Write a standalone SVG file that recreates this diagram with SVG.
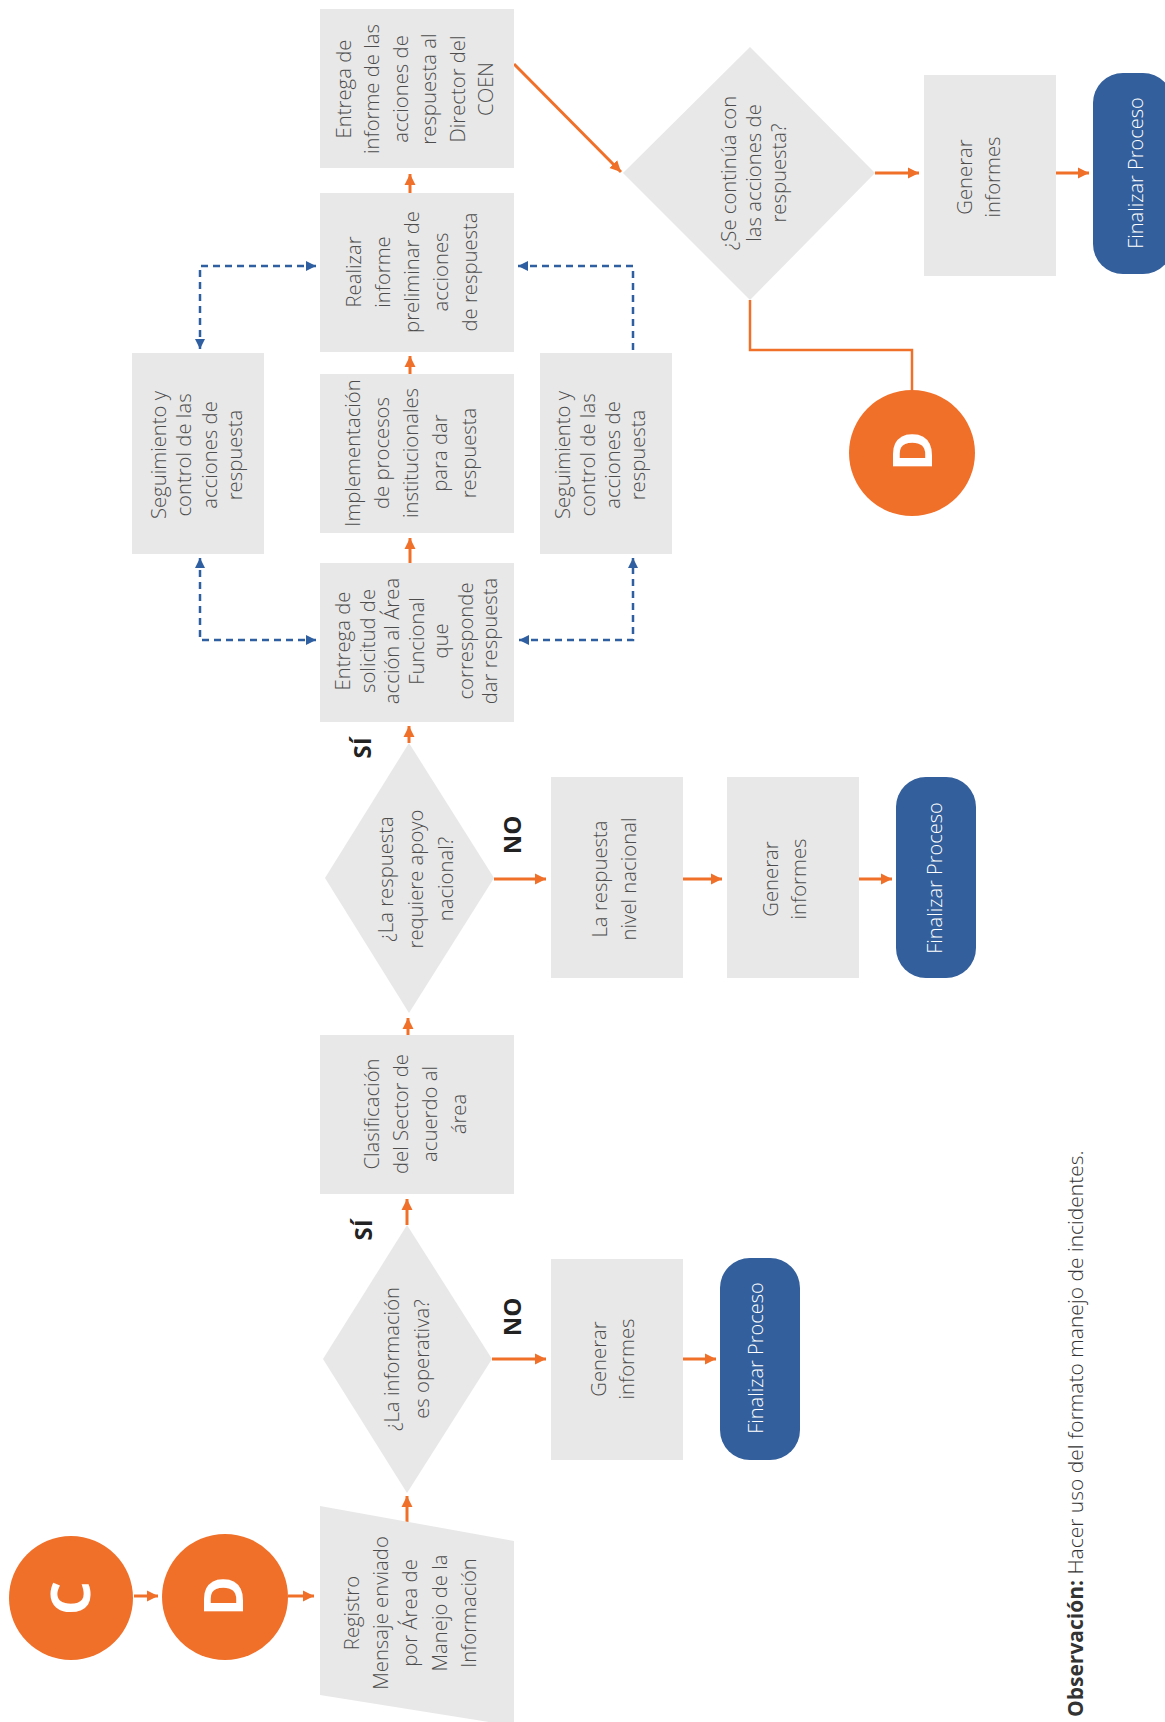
<svg xmlns="http://www.w3.org/2000/svg" width="1165" height="1722" viewBox="0 0 1165 1722">
<style>
.box{fill:#e8e8e8}
.term{fill:#335f9c}
.circ{fill:#f07029}
.t{font-family:"Open Sans","Liberation Sans",sans-serif;font-weight:300;font-size:20.3px;fill:#4d4d4d;text-anchor:middle}
.tw{font-family:"Open Sans","Liberation Sans",sans-serif;font-weight:300;font-size:20px;fill:#ffffff;text-anchor:middle}
.lbl{font-family:"Open Sans","Liberation Sans",sans-serif;font-weight:700;font-size:24px;fill:#222222;text-anchor:middle}
.big{font-family:"Open Sans","Liberation Sans",sans-serif;font-weight:700;font-size:54px;fill:#ffffff;text-anchor:middle}
.o{fill:none;stroke:#f07029;stroke-width:3}
.ol{fill:none;stroke:#f07029;stroke-width:2.5}
.b{fill:none;stroke:#2f5fa0;stroke-width:2.5;stroke-dasharray:7 5}
</style>
<defs>
<marker id="ao" viewBox="0 0 10 10" refX="10" refY="5" markerWidth="11" markerHeight="12" markerUnits="userSpaceOnUse" orient="auto-start-reverse"><path d="M0,0 L10,5 L0,10 z" fill="#f07029"/></marker>
<marker id="ab" viewBox="0 0 10 10" refX="10" refY="5" markerWidth="10" markerHeight="11" markerUnits="userSpaceOnUse" orient="auto-start-reverse"><path d="M0,0 L10,5 L0,10 z" fill="#2f5fa0"/></marker>
</defs>

<g id="connectors">
<path class="o" d="M134,1596 H158" marker-end="url(#ao)"/>
<path class="o" d="M288,1596 H314" marker-end="url(#ao)"/>
<path class="o" d="M407,1522 V1496" marker-end="url(#ao)"/>
<path class="o" d="M407,1225 V1199" marker-end="url(#ao)"/>
<path class="o" d="M492,1359 H546" marker-end="url(#ao)"/>
<path class="o" d="M683,1359 H716" marker-end="url(#ao)"/>
<path class="o" d="M408,1035 V1018" marker-end="url(#ao)"/>
<path class="o" d="M409,743 V726" marker-end="url(#ao)"/>
<path class="o" d="M494,879 H546" marker-end="url(#ao)"/>
<path class="o" d="M683,879 H722" marker-end="url(#ao)"/>
<path class="o" d="M859,879 H892" marker-end="url(#ao)"/>
<path class="o" d="M410,563 V538" marker-end="url(#ao)"/>
<path class="o" d="M410,374 V356" marker-end="url(#ao)"/>
<path class="o" d="M410,193 V174" marker-end="url(#ao)"/>
<path class="o" d="M514,64 L621,172" marker-end="url(#ao)"/>
<path class="o" d="M875,173 H919" marker-end="url(#ao)"/>
<path class="o" d="M1056,173 H1089" marker-end="url(#ao)"/>
<path class="ol" d="M750,300 V350 H912 V390"/>
<path class="b" d="M200,349 V266 H316" marker-start="url(#ab)" marker-end="url(#ab)"/>
<path class="b" d="M200,558 V640 H316" marker-start="url(#ab)" marker-end="url(#ab)"/>
<path class="b" d="M519,640 H633 V558" marker-start="url(#ab)" marker-end="url(#ab)"/>
<path class="b" d="M633,350 V266 H518" marker-end="url(#ab)"/>
</g>

<g id="nodeC">
<circle class="circ" cx="71" cy="1598" r="62"/>
<text class="big" transform="translate(90,1598) rotate(-90)">C</text>
</g>
<g id="nodeD1">
<circle class="circ" cx="225" cy="1597" r="63"/>
<text class="big" transform="translate(243,1596) rotate(-90)">D</text>
</g>
<g id="registro">
<polygon class="box" points="320,1506 514,1541 514,1726 320,1695"/>
<text class="t" transform="translate(359,1613) rotate(-90)"><tspan x="0" y="0">Registro</tspan><tspan x="0" dy="29.2">Mensaje enviado</tspan><tspan x="0" dy="29.2">por Área de</tspan><tspan x="0" dy="29.2">Manejo de la</tspan><tspan x="0" dy="29.2">Información</tspan></text>
</g>
<g id="dec1">
<polygon class="box" points="407,1225 492,1359 407,1493 323,1359"/>
<text class="t" transform="translate(399,1359) rotate(-90)"><tspan x="0" y="0">¿La información</tspan><tspan x="0" dy="30">es operativa?</tspan></text>
<text class="lbl" transform="translate(372,1230) rotate(-90)">SÍ</text>
<text class="lbl" transform="translate(521,1317) rotate(-90)">NO</text>
</g>
<g id="gen1">
<rect class="box" x="551" y="1259" width="132" height="201"/>
<text class="t" transform="translate(606,1359) rotate(-90)"><tspan x="0" y="0">Generar</tspan><tspan x="0" dy="28">informes</tspan></text>
</g>
<g id="fin1">
<rect class="term" x="720" y="1258" width="80" height="202" rx="30"/>
<text class="tw" transform="translate(763,1358) rotate(-90)">Finalizar Proceso</text>
</g>
<g id="clasificacion">
<rect class="box" x="320" y="1035" width="194" height="159"/>
<text class="t" transform="translate(379,1114) rotate(-90)"><tspan x="0" y="0">Clasificación</tspan><tspan x="0" dy="29">del Sector de</tspan><tspan x="0" dy="29">acuerdo al</tspan><tspan x="0" dy="29">área</tspan></text>
</g>
<g id="dec2">
<polygon class="box" points="409,743 494,878 409,1013 325,878"/>
<text class="t" transform="translate(393,879) rotate(-90)"><tspan x="0" y="0">¿La respuesta</tspan><tspan x="0" dy="30">requiere apoyo</tspan><tspan x="0" dy="30">nacional?</tspan></text>
<text class="lbl" transform="translate(371,748) rotate(-90)">SÍ</text>
<text class="lbl" transform="translate(521,835) rotate(-90)">NO</text>
</g>
<g id="nivel">
<rect class="box" x="551" y="777" width="132" height="201"/>
<text class="t" transform="translate(607,879) rotate(-90)"><tspan x="0" y="0">La respuesta</tspan><tspan x="0" dy="29">nivel nacional</tspan></text>
</g>
<g id="gen2">
<rect class="box" x="727" y="777" width="132" height="201"/>
<text class="t" transform="translate(778,879) rotate(-90)"><tspan x="0" y="0">Generar</tspan><tspan x="0" dy="28">informes</tspan></text>
</g>
<g id="fin2">
<rect class="term" x="896" y="777" width="80" height="201" rx="30"/>
<text class="tw" transform="translate(942,878) rotate(-90)">Finalizar Proceso</text>
</g>
<g id="entregaSol">
<rect class="box" x="320" y="563" width="194" height="159"/>
<text class="t" transform="translate(350,641) rotate(-90)"><tspan x="0" y="0">Entrega de</tspan><tspan x="0" dy="24.5">solicitud de</tspan><tspan x="0" dy="24.5">acción al Área</tspan><tspan x="0" dy="24.5">Funcional</tspan><tspan x="0" dy="24.5">que</tspan><tspan x="0" dy="24.5">corresponde</tspan><tspan x="0" dy="24.5">dar respuesta</tspan></text>
</g>
<g id="implementacion">
<rect class="box" x="320" y="374" width="194" height="159"/>
<text class="t" transform="translate(360,453) rotate(-90)"><tspan x="0" y="0">Implementación</tspan><tspan x="0" dy="29.1">de procesos</tspan><tspan x="0" dy="29.1">institucionales</tspan><tspan x="0" dy="29.1">para dar</tspan><tspan x="0" dy="29.1">respuesta</tspan></text>
</g>
<g id="seg1">
<rect class="box" x="132" y="353" width="132" height="201"/>
<text class="t" transform="translate(166,455) rotate(-90)"><tspan x="0" y="0">Seguimiento y</tspan><tspan x="0" dy="25.3">control de las</tspan><tspan x="0" dy="25.3">acciones de</tspan><tspan x="0" dy="25.3">respuesta</tspan></text>
</g>
<g id="seg2">
<rect class="box" x="540" y="353" width="132" height="201"/>
<text class="t" transform="translate(570,455) rotate(-90)"><tspan x="0" y="0">Seguimiento y</tspan><tspan x="0" dy="25">control de las</tspan><tspan x="0" dy="25">acciones de</tspan><tspan x="0" dy="25">respuesta</tspan></text>
</g>
<g id="realizar">
<rect class="box" x="320" y="193" width="194" height="159"/>
<text class="t" transform="translate(361,272) rotate(-90)"><tspan x="0" y="0">Realizar</tspan><tspan x="0" dy="29">informe</tspan><tspan x="0" dy="29">preliminar de</tspan><tspan x="0" dy="29">acciones</tspan><tspan x="0" dy="29">de respuesta</tspan></text>
</g>
<g id="entregaInf">
<rect class="box" x="320" y="9" width="194" height="159"/>
<text class="t" transform="translate(351,89) rotate(-90)"><tspan x="0" y="0">Entrega de</tspan><tspan x="0" dy="28.4">informe de las</tspan><tspan x="0" dy="28.4">acciones de</tspan><tspan x="0" dy="28.4">respuesta al</tspan><tspan x="0" dy="28.4">Director del</tspan><tspan x="0" dy="28.4">COEN</tspan></text>
</g>
<g id="dec3">
<polygon class="box" points="750,47 875,173 750,300 623,173"/>
<text class="t" transform="translate(736,173) rotate(-90)"><tspan x="0" y="0">¿Se continúa con</tspan><tspan x="0" dy="25">las acciones de</tspan><tspan x="0" dy="25">respuesta?</tspan></text>
</g>
<g id="gen3">
<rect class="box" x="924" y="75" width="132" height="201"/>
<text class="t" transform="translate(972,177) rotate(-90)"><tspan x="0" y="0">Generar</tspan><tspan x="0" dy="28">informes</tspan></text>
</g>
<g id="fin3">
<rect class="term" x="1093" y="73" width="80" height="201" rx="30"/>
<text class="tw" transform="translate(1143,173) rotate(-90)">Finalizar Proceso</text>
</g>
<g id="nodeD2">
<circle class="circ" cx="912" cy="453" r="63"/>
<text class="big" transform="translate(932,451) rotate(-90)">D</text>
</g>
<g id="nota">
<text transform="translate(1083,1717) rotate(-90)" style="font-family:'Open Sans','Liberation Sans',sans-serif;font-size:21px;fill:#333333;text-anchor:start"><tspan font-weight="700">Observación:</tspan><tspan font-weight="300"> Hacer uso del formato manejo de incidentes.</tspan></text>
</g>
</svg>
